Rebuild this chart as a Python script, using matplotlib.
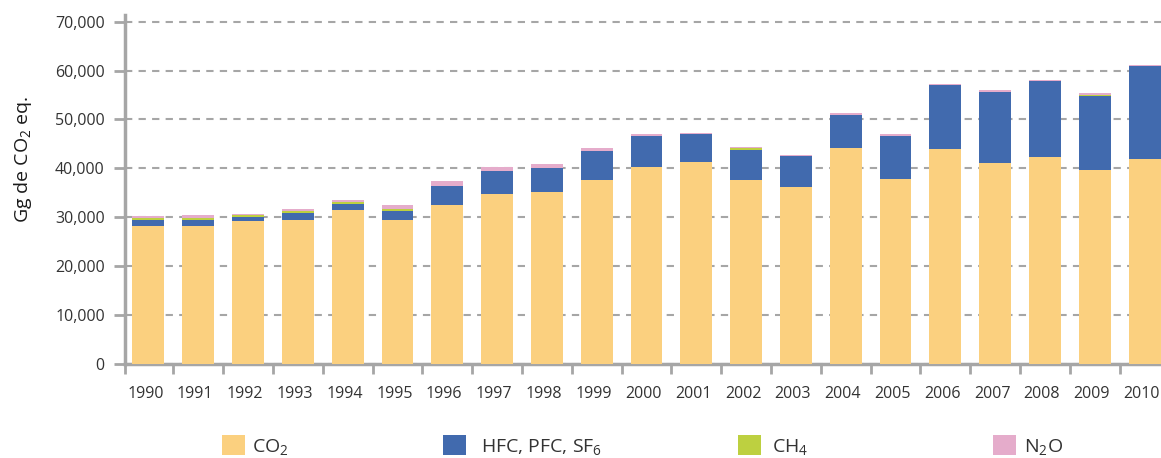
import matplotlib.pyplot as plt
import numpy as np

plt.rcParams['font.family'] = ['Open Sans', 'DejaVu Sans']
plt.rcParams['mathtext.default'] = 'regular'

# Data (Gg CO2 eq.)
years = [str(y) for y in range(1990, 2011)]
co2 = [28260, 28260, 29280, 29480, 31520, 29480, 32550, 34790, 35200, 37650,
       40300, 41330, 37650, 36220, 44190, 37860, 43990, 41130, 42360, 39700, 41940]
hfc = [1220, 1220, 810, 1430, 1230, 1840, 3880, 4700, 4900, 5930,
       6340, 5720, 6130, 6340, 6740, 8780, 13070, 14500, 15520, 15110, 19000]
ch4 = [410, 410, 350, 410, 410, 410, 40, 40, 40, 40,
       40, 40, 410, 40, 40, 40, 40, 40, 40, 270, 40]
n2o = [410, 610, 270, 410, 410, 820, 1020, 810, 820, 610,
       410, 200, 270, 200, 410, 410, 200, 410, 200, 350, 200]

colors = ['#FBD07F', '#416AAE', '#BDD040', '#E5ACCB']
labels = ['CO$_2$', 'HFC, PFC, SF$_6$', 'CH$_4$', 'N$_2$O']
grey = '#a6a6a6'
txt = '#333333'

fig = plt.figure(figsize=(11.61, 4.58), dpi=100)
ax = fig.add_axes([125 / 1161, 1 - 364 / 458, 1 - 125 / 1161, (364 - 14.7) / 458])

x = np.arange(len(years))
bottom = np.zeros(len(years))
bars = []
for vals, c in zip([co2, hfc, ch4, n2o], colors):
    b = ax.bar(x, vals, 0.64, bottom=bottom, color=c, zorder=3)
    bars.append(b)
    bottom += np.array(vals)

ax.set_xlim(-0.47, 20.33)
ax.set_ylim(0, 71430)

ax.set_yticks(range(0, 70001, 10000))
ax.set_yticklabels([f'{v:,}' for v in range(0, 70001, 10000)])
ax.yaxis.grid(True, color=grey, linestyle=(0, (3.5, 3)), linewidth=1.5, zorder=0)
ax.tick_params(axis='y', length=8, width=2, color=grey, pad=6.5,
               labelsize=11.5, labelcolor=txt)

ax.set_xticks(x - 0.06)
ax.set_xticklabels(years)
ax.tick_params(axis='x', which='major', length=0, pad=16, labelsize=11.5, labelcolor=txt)
ax.set_xticks(np.r_[-0.47, x[:-1] + 0.5], minor=True)
ax.tick_params(axis='x', which='minor', length=7, width=2, color=grey)

for s in ['top', 'right']:
    ax.spines[s].set_visible(False)
for s in ['left', 'bottom']:
    ax.spines[s].set_color(grey)
    ax.spines[s].set_linewidth(2.5)

fig.text(23 / 1161, 1 - 159 / 458, 'Gg de CO$_2$ eq.', rotation=90,
         ha='center', va='center', fontsize=14, color='#1a1a1a')

# legend items, spaced as in the original
leg_x = [222, 443, 738, 993]
leg_pad = [0.36, 0.77, 0.57, 0.41]
for b, lab, lx, pad in zip(bars, labels, leg_x, leg_pad):
    leg = fig.legend([b], [lab], loc='center left',
                     bbox_to_anchor=(lx / 1161, 1 - 446 / 458),
                     frameon=False, fontsize=14, borderpad=0, borderaxespad=0,
                     handlelength=1.18, handleheight=1.2, handletextpad=pad)
    for t in leg.get_texts():
        t.set_color(txt)

fig.savefig('out.png', dpi=100)
